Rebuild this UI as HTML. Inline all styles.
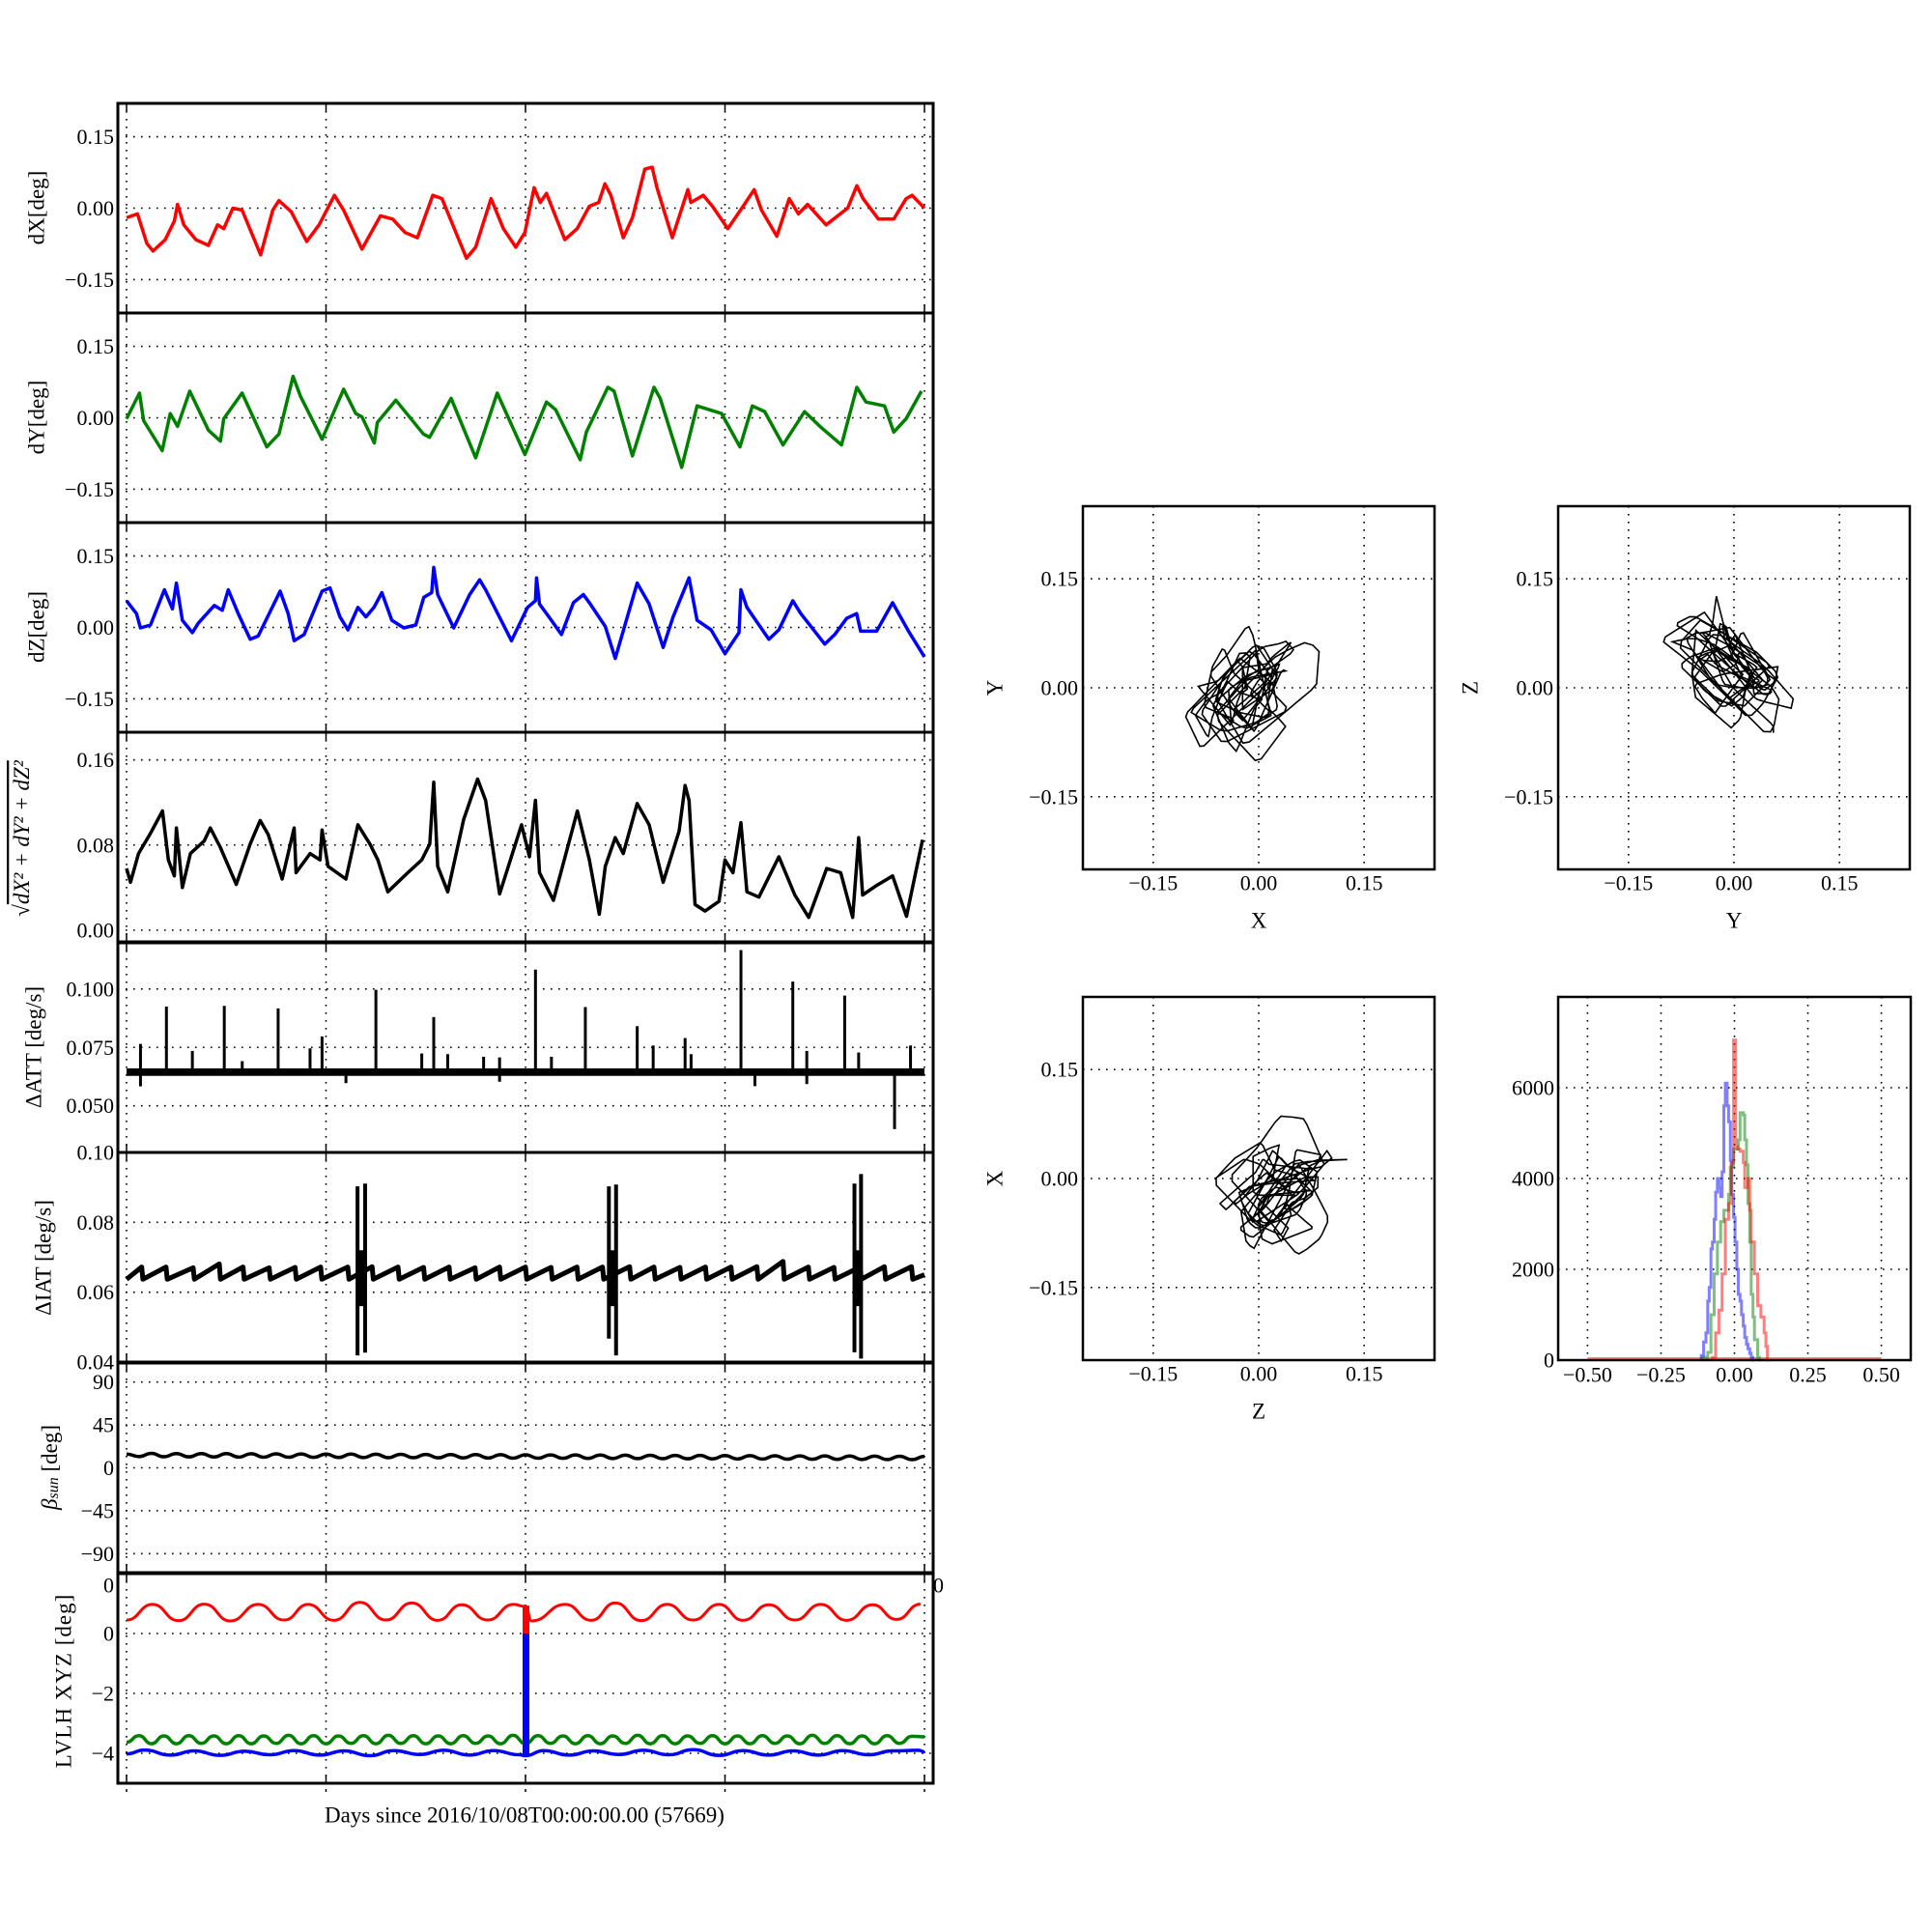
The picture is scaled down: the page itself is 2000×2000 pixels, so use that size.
<!DOCTYPE html>
<html><head><meta charset="utf-8"><style>
body{margin:0;background:#fff}
svg{display:block;font-family:"Liberation Serif","DejaVu Serif",serif}
.grid{stroke:#000;stroke-width:1.6;stroke-dasharray:1.6 6.4;fill:none}
.tick{font-size:22px;fill:#000}
.axlab{font-size:23px;fill:#000}
</style></head><body>
<svg id="fig" width="2000" height="2000" viewBox="0 0 2000 2000"></svg>
<script>
// ---------- data ----------
const dayTicks=[0,1,2,3,4];
const dXDays=[0,.055,.102,.133,.194,.240,.256,.287,.348,.410,.456,.487,.533,.579,.672,.733,.764,.826,.903,.965,1.042,1.088,1.180,1.273,1.334,1.396,1.458,1.535,1.581,1.704,1.750,1.827,1.889,1.951,1.997,2.043,2.074,2.105,2.197,2.259,2.320,2.367,2.398,2.428,2.490,2.536,2.598,2.635,2.659,2.736,2.814,2.829,2.891,2.937,3.014,3.091,3.146,3.183,3.260,3.322,3.368,3.414,3.507,3.615,3.661,3.692,3.769,3.846,3.908,3.938,4.0];
const dXVals=[-.020,-.012,-.074,-.090,-.066,-.027,.008,-.035,-.066,-.078,-.035,-.043,0,-.004,-.098,-.004,.016,-.008,-.070,-.035,.027,-.004,-.086,-.016,-.023,-.051,-.062,.027,.020,-.105,-.082,.020,-.043,-.082,-.051,.043,.012,.031,-.066,-.043,.004,.012,.051,.027,-.062,-.020,.082,.086,.043,-.062,.039,.012,.027,.004,-.043,.004,.039,-.004,-.059,.020,-.012,.008,-.035,0,.047,.020,-.023,-.023,.020,.027,0];
const dYDays=[0,.065,.086,.179,.219,.256,.317,.410,.471,.487,.579,.703,.764,.835,.872,.980,1.088,1.149,1.180,1.242,1.257,1.350,1.488,1.519,1.627,1.750,1.858,1.997,2.105,2.151,2.274,2.305,2.413,2.444,2.536,2.644,2.675,2.783,2.860,2.983,3.075,3.137,3.199,3.291,3.399,3.476,3.584,3.661,3.707,3.800,3.846,3.908,3.985];
const dYVals=[-.002,.052,-.006,-.069,.009,-.018,.056,-.026,-.049,-.002,.052,-.061,-.034,.087,.045,-.045,.060,.009,.002,-.053,-.010,.037,-.034,-.041,.041,-.084,.052,-.077,.033,.017,-.088,-.030,.064,.056,-.080,.064,.041,-.104,.025,.009,-.061,.025,.013,-.057,.013,-.018,-.057,.064,.033,.025,-.030,-.002,.056];
const dZDays=[0,.05,.07,.12,.19,.23,.25,.28,.33,.36,.44,.48,.51,.56,.62,.66,.77,.81,.84,.89,.98,1.02,1.07,1.11,1.16,1.20,1.24,1.28,1.33,1.39,1.45,1.49,1.53,1.54,1.56,1.64,1.72,1.77,1.80,1.93,2.01,2.05,2.055,2.07,2.13,2.18,2.24,2.29,2.32,2.40,2.45,2.56,2.62,2.69,2.74,2.82,2.86,2.93,3.0,3.07,3.08,3.11,3.22,3.27,3.34,3.38,3.50,3.55,3.61,3.66,3.68,3.76,3.84,3.92,4.0];
const dZVals=[.056,.029,-.001,.005,.079,.039,.093,.015,-.011,.009,.046,.036,.079,.029,-.025,-.018,.076,.029,-.028,-.015,.076,.083,.022,-.005,.042,.022,.042,.073,.015,-.001,.005,.063,.073,.126,.069,-.001,.069,.100,.079,-.028,.042,.056,.104,.049,.015,-.015,.052,.069,.052,.002,-.065,.093,.049,-.042,.022,.104,.015,-.005,-.055,-.011,.079,.042,-.025,-.005,.056,.029,-.035,-.015,.019,.029,-.008,-.008,.052,-.008,-.062];
const magDays=[0,.02,.06,.12,.18,.21,.24,.25,.28,.32,.39,.42,.47,.55,.62,.67,.71,.78,.84,.85,.92,.97,.98,1.01,1.10,1.16,1.22,1.26,1.31,1.41,1.48,1.52,1.54,1.56,1.61,1.69,1.76,1.80,1.87,1.98,2.02,2.05,2.07,2.14,2.26,2.32,2.37,2.40,2.45,2.49,2.56,2.62,2.69,2.77,2.80,2.82,2.85,2.90,2.97,3.0,3.04,3.08,3.11,3.17,3.27,3.35,3.42,3.51,3.58,3.64,3.67,3.69,3.76,3.84,3.91,3.99];
const magVals=[.058,.045,.072,.091,.112,.066,.051,.096,.040,.072,.084,.096,.078,.043,.081,.103,.090,.048,.096,.054,.072,.066,.094,.060,.048,.099,.081,.066,.036,.054,.066,.081,.139,.060,.036,.104,.142,.122,.034,.099,.069,.122,.054,.028,.112,.066,.015,.060,.087,.072,.119,.099,.045,.093,.136,.122,.024,.018,.027,.066,.054,.101,.036,.031,.069,.033,.012,.058,.054,.012,.087,.033,.042,.051,.013,.085];
const attBase=[.0628,.0660];
const attSpikeDays=[.07,.20,.33,.49,.58,.76,.92,.98,1.25,1.48,1.54,1.61,1.79,1.87,2.05,2.13,2.30,2.56,2.64,2.80,2.83,3.08,3.34,3.41,3.60,3.67,3.93];
const attSpikeVals=[.0765,.0925,.0735,.0928,.0691,.0917,.0746,.0797,.0997,.0724,.0880,.0721,.0710,.0707,.1083,.0710,.0923,.0841,.0758,.0790,.0721,.1167,.1032,.0735,.0972,.0728,.0758];
const attDipDays=[.07,1.10,1.87,3.15,3.41,3.85];
const attDipVals=[.0583,.0597,.0603,.0584,.0593,.0400];
const iatToothDays=[.076,.198,.334,.465,.584,.715,.845,.973,1.109,1.231,1.361,1.489,1.617,1.747,1.870,2.0,2.128,2.258,2.386,2.522,2.644,2.774,2.902,3.030,3.160,3.291,3.418,3.546,3.677,3.799,3.935];
const iatToothVals=[.0672,.0672,.0670,.0681,.0672,.0670,.0671,.0672,.0672,.0673,.0672,.0671,.0672,.0670,.0672,.0672,.0671,.0672,.0672,.0673,.0672,.0671,.0672,.0672,.0673,.0688,.0672,.0671,.0672,.0673,.0673];
const iatBaseVal=.0637;
const iatBurstDays=[1.158,1.196,2.418,2.454,3.649,3.682];
const iatBurstTop=[.0903,.0911,.0903,.0908,.0911,.0938];
const iatBurstBot=[.0419,.0427,.0467,.0419,.0428,.0410];
const waveDays=[0,.0625,.125,.1875,.25,.3125,.375,.4375,.5,.5625,.625,.6875,.75,.8125,.875,.9375,1,1.0625,1.125,1.1875,1.25,1.3125,1.375,1.4375,1.5,1.5625,1.625,1.6875,1.75,1.8125,1.875,1.9375,2,2.0625,2.125,2.1875,2.25,2.3125,2.375,2.4375,2.5,2.5625,2.625,2.6875,2.75,2.8125,2.875,2.9375,3,3.0625,3.125,3.1875,3.25,3.3125,3.375,3.4375,3.5,3.5625,3.625,3.6875,3.75,3.8125,3.875,3.9375,4];
const betaVals=[14.5,11.8,15.2,11.6,15.0,11.5,15.0,11.4,14.9,11.3,14.8,11.2,14.7,11.1,14.6,11.0,14.5,10.9,14.4,10.8,14.3,10.7,14.2,10.6,14.1,10.5,14.0,10.4,13.9,10.3,13.8,10.2,13.7,10.1,13.6,10.0,13.5,9.9,13.4,9.8,13.3,9.7,13.2,9.6,13.1,9.5,13.0,9.4,12.9,9.3,12.8,9.2,12.7,9.1,12.6,9.0,12.5,8.9,12.4,8.8,12.3,8.7,12.2,8.6,12.1];
const greenVals=[-3.63,-3.41,-3.68,-3.42,-3.68,-3.41,-3.67,-3.42,-3.68,-3.41,-3.68,-3.42,-3.67,-3.40,-3.68,-3.41,-3.68,-3.42,-3.67,-3.41,-3.68,-3.40,-3.67,-3.41,-3.68,-3.42,-3.68,-3.41,-3.67,-3.42,-3.68,-3.40,-3.68,-3.41,-3.67,-3.42,-3.68,-3.41,-3.68,-3.42,-3.67,-3.40,-3.68,-3.41,-3.68,-3.42,-3.67,-3.41,-3.68,-3.42,-3.68,-3.41,-3.67,-3.42,-3.68,-3.40,-3.67,-3.41,-3.68,-3.42,-3.68,-3.41,-3.67,-3.43,-3.45];
const redDays=[0,.13,.26,.39,.52,.66,.79,.91,1.04,1.17,1.30,1.43,1.56,1.68,1.81,1.94,2.00,2.03,2.20,2.33,2.45,2.58,2.71,2.84,2.97,3.09,3.22,3.35,3.48,3.61,3.74,3.86,3.98];
const redVals=[.45,.97,.43,.98,.42,.97,.45,.97,.44,1.04,.45,1.02,.44,.96,.45,.97,.90,.42,.97,.44,1.02,.43,.97,.45,.97,.44,.96,.45,.97,.44,.96,.47,.98];
const blueDays=[0,.09,.22,.34,.47,.59,.72,.84,.97,1.09,1.22,1.34,1.47,1.59,1.72,1.84,1.97,2.0,2.09,2.22,2.34,2.47,2.59,2.72,2.84,2.97,3.09,3.22,3.34,3.47,3.59,3.72,3.84,3.97,4.0];
const blueVals=[-4.02,-3.89,-4.06,-3.92,-4.07,-3.93,-4.05,-3.91,-4.06,-3.92,-4.08,-3.91,-4.04,-3.90,-4.06,-3.91,-4.05,-4.08,-3.91,-4.06,-3.92,-4.04,-3.90,-4.05,-3.88,-4.07,-3.91,-4.06,-3.92,-4.06,-3.91,-4.05,-3.92,-3.90,-3.95];
const jumpDay=2.0, jumpRedTop=.93, jumpBlueBot=-4.05;
const histBlueX=[-.113,-.105,-.097,-.091,-.086,-.080,-.075,-.069,-.064,-.058,-.053,-.047,-.042,-.036,-.031,-.025,-.020,-.014,-.009,-.003,.002,.008,.013,.019,.024,.030,.035,.041,.046,.052,.057,.063];
const histBlueC=[100,400,600,1300,1600,2450,2600,3100,3700,4000,3800,3600,4150,5600,6100,5600,5250,4400,3650,3150,2600,2000,1450,1300,1000,750,500,350,250,150,60,0];
const histGreenX=[-.108,-.091,-.080,-.069,-.058,-.047,-.036,-.020,-.014,-.003,.013,.019,.030,.035,.041,.046,.052,.057,.063,.068,.079,.085];
const histGreenC=[60,170,1000,1900,2600,3050,3300,3650,4250,4650,4850,5450,5400,4850,4300,3450,2600,1450,950,450,60,0];
const histRedX=[-.075,-.064,-.053,-.042,-.031,-.020,-.011,-.003,.004,.011,.019,.030,.035,.046,.052,.057,.068,.079,.090,.101,.107,.112];
const histRedC=[60,600,1100,1900,3100,3450,4350,7050,4700,4650,4600,4350,3800,4000,3300,2600,1900,1200,950,600,300,0];

// ---------- drawing ----------
const svg=document.getElementById('fig');
const NS=svg.namespaceURI;
function mk(tag,attrs,parent){const e=document.createElementNS(NS,tag);for(const k in attrs)e.setAttribute(k,attrs[k]);(parent||svg).appendChild(e);return e;}
const PT=[107,324,541,758,976,1193,1411,1629], PH=217, FX0=122, FX1=966;
const XMIN=-0.0435, XMAX=4.0435;
const xs=d=>FX0+(d-XMIN)/(XMAX-XMIN)*(FX1-FX0);

function leftPanel(i,key,ymin,ymax,ticks,labels){
  const top=PT[i];
  const g=mk('g',{});
  
  
  const ys=v=>top+(ymax-v)/(ymax-ymin)*PH;
  dayTicks.forEach(d=>{
    const l=mk('line',{x1:xs(d),x2:xs(d),y1:top,y2:top+PH,class:'grid'},g);
    
    
    const t1=mk('line',{x1:xs(d),x2:xs(d),y1:top,y2:top+8,stroke:'#000','stroke-width':1.5},g);
    
    
    const t2=mk('line',{x1:xs(d),x2:xs(d),y1:top+PH-8,y2:top+PH,stroke:'#000','stroke-width':1.5},g);
    
    
  });
  ticks.forEach((t,j)=>{
    const y=ys(t);
    const l=mk('line',{x1:FX0,x2:FX1,y1:y,y2:y,class:'grid'},g);
    
    
    const tx=mk('text',{x:118,y:y,'text-anchor':'end','dominant-baseline':'central',class:'tick'},g);
    
    
    tx.textContent=labels[j];
  });
  return {g,ys,top};
}
function frame(p){
  const r=mk('rect',{x:FX0,y:p.top,width:FX1-FX0,height:PH,fill:'none',stroke:'#000','stroke-width':3},p.g);
  
  
}
function line(p,days,vals,color,w,name){
  const pts=days.map((d,k)=>xs(d).toFixed(1)+','+p.ys(vals[k]).toFixed(1)).join(' ');
  const e=mk('polyline',{points:pts,fill:'none',stroke:color,'stroke-width':w,'stroke-linejoin':'round'},p.g);
  
  
}
function wave(p,days,vals,color,w,name){
  let d='M'+xs(days[0])+','+p.ys(vals[0]);
  for(let k=1;k<days.length;k++){
    const xa=xs(days[k-1]),xb=xs(days[k]),xm=(xa+xb)/2,ya=p.ys(vals[k-1]),yb=p.ys(vals[k]);
    d+=` C${xm},${ya} ${xm},${yb} ${xb},${yb}`;
  }
  const e=mk('path',{d:d,fill:'none',stroke:color,'stroke-width':w},p.g);
  
  
}
function ylabel(x,y,txt,name){
  const t=mk('text',{x:x,y:y,transform:`rotate(-90 ${x} ${y})`,'text-anchor':'middle','dominant-baseline':'central',class:'axlab'});
  
  
  t.textContent=txt;
  return t;
}

const pm=['−0.15','0.00','0.15'];
const p1=leftPanel(0,'dx',-0.22,0.22,[-0.15,0,0.15],pm);
line(p1,dXDays,dXVals,'#ff0000',3.5,'dx-series');frame(p1);
const p2=leftPanel(1,'dy',-0.22,0.22,[-0.15,0,0.15],pm);
line(p2,dYDays,dYVals,'#008000',3.5,'dy-series');frame(p2);
const p3=leftPanel(2,'dz',-0.22,0.22,[-0.15,0,0.15],pm);
line(p3,dZDays,dZVals,'#0000ff',3.5,'dz-series');frame(p3);
const p4=leftPanel(3,'magnitude',-0.011,0.186,[0,0.08,0.16],['0.00','0.08','0.16']);
line(p4,magDays,magVals,'#000',3.5,'magnitude-series');frame(p4);

const p5=leftPanel(4,'datt',0.030,0.1198,[0.05,0.075,0.1],['0.050','0.075','0.100']);
{const r=mk('rect',{x:xs(0),y:p5.ys(attBase[1]),width:xs(4)-xs(0),height:p5.ys(attBase[0])-p5.ys(attBase[1]),fill:'#000'},p5.g);

}
attSpikeDays.forEach((d,k)=>{
  const l=mk('line',{x1:xs(d),x2:xs(d),y1:p5.ys(.0645),y2:p5.ys(attSpikeVals[k]),stroke:'#000','stroke-width':3},p5.g);
  
  
});
attDipDays.forEach((d,k)=>{
  const l=mk('line',{x1:xs(d),x2:xs(d),y1:p5.ys(.0645),y2:p5.ys(attDipVals[k]),stroke:'#000','stroke-width':3},p5.g);
  
  
});
frame(p5);

const p6=leftPanel(5,'diat',0.04,0.10,[0.04,0.06,0.08,0.10],['0.04','0.06','0.08','0.10']);
{let d='M'+xs(0)+','+p6.ys(iatBaseVal);
 iatToothDays.forEach((t,k)=>{
   d+=` L${xs(t)},${p6.ys(iatToothVals[k])} L${xs(t+0.006)},${p6.ys(iatBaseVal)}`;
 });
 d+=` L${xs(4)},${p6.ys(.0650)}`;
 const e=mk('path',{d:d,fill:'none',stroke:'#000','stroke-width':5,'stroke-linejoin':'round'},p6.g);
 
 }
iatBurstDays.forEach((d,k)=>{
  const l=mk('line',{x1:xs(d),x2:xs(d),y1:p6.ys(iatBurstTop[k]),y2:p6.ys(iatBurstBot[k]),stroke:'#000','stroke-width':4},p6.g);
  
  
});
for(let k=0;k<iatBurstDays.length;k+=2){
  const xa=xs(iatBurstDays[k]),xb=xs(iatBurstDays[k+1]);
  const r=mk('rect',{x:xa,y:p6.ys(.072),width:xb-xa,height:p6.ys(.056)-p6.ys(.072),fill:'#000'},p6.g);
  
  
}
frame(p6);

const p7=leftPanel(6,'beta-sun',-110,110,[-90,-45,0,45,90],['−90','−45','0','45','90']);
wave(p7,waveDays,betaVals,'#000',3.5,'beta-sun-series');frame(p7);

const p8=leftPanel(7,'lvlh',-5,2,[-4,-2,0],['−4','−2','0']);
wave(p8,waveDays,greenVals,'#008000',3.5,'lvlh-y-series');
wave(p8,blueDays,blueVals,'#0000ff',3.5,'lvlh-z-series');
wave(p8,redDays,redVals,'#ff0000',3,'lvlh-x-series');
{const r1=mk('rect',{x:xs(jumpDay)-3,y:p8.ys(0),width:7,height:p8.ys(jumpBlueBot)-p8.ys(0),fill:'#0000ff'},p8.g);


const r2=mk('rect',{x:xs(jumpDay)-3,y:p8.ys(jumpRedTop),width:7,height:p8.ys(0)-p8.ys(jumpRedTop),fill:'#ff0000'},p8.g);

}
frame(p8);
{const a=mk('text',{x:118,y:1641,'text-anchor':'end','dominant-baseline':'central',class:'tick'});


a.textContent='0';
const b=mk('text',{x:966,y:1641,'dominant-baseline':'central',class:'tick'});


b.textContent='0';}
dayTicks.forEach(d=>{
  const l=mk('line',{x1:xs(d),x2:xs(d),y1:1852,y2:1855,stroke:'#000','stroke-width':1.5});
  
  
});

ylabel(38,215,'dX[deg]','dx-y-label');
ylabel(38,432,'dY[deg]','dy-y-label');
ylabel(38,649,'dZ[deg]','dz-y-label');
{const t=ylabel(22,868,'','magnitude-y-label');t.setAttribute('font-style','italic');
 const s1=mk('tspan',{},t);s1.textContent='√';
 const s2=mk('tspan',{'text-decoration':'overline'},t);s2.textContent='dX² + dY² + dZ²';}
ylabel(35,1084,'ΔATT [deg/s]','datt-y-label');
ylabel(45,1302,'ΔIAT [deg/s]','diat-y-label');
{const t=ylabel(51,1519,'','beta-y-label');
 const s1=mk('tspan',{'font-style':'italic'},t);s1.textContent='β';
 const s2=mk('tspan',{'font-style':'italic','font-size':'16px','dy':'4'},t);s2.textContent='sun';
 const s3=mk('tspan',{'dy':'-4'},t);s3.textContent=' [deg]';}
{const t=ylabel(66,1740,'LVLH XYZ [deg]','lvlh-y-label');t.setAttribute('letter-spacing','1');}
{const t=mk('text',{x:543,y:1879,'text-anchor':'middle','dominant-baseline':'central',class:'axlab'});


t.textContent='Days since 2016/10/08T00:00:00.00 (57669)';}

// ---------- right panels ----------
const N=600;
function interp(days,vals,t){let k=1;while(k<days.length-1&&days[k]<t)k++;const f=(t-days[k-1])/(days[k]-days[k-1]);return vals[k-1]+(vals[k]-vals[k-1])*Math.max(0,Math.min(1,f));}
function scatterPanel(x0,y0,xd,xv,yd,yv,xl,yl,key){
  const W=364,H=376,g=mk('g',{});
  
  
  const sx=v=>x0+(v+0.25)/0.5*W, sy=v=>y0+(0.25-v)/0.5*H;
  [-0.15,0,0.15].forEach((t,j)=>{
    const a=mk('line',{x1:sx(t),x2:sx(t),y1:y0,y2:y0+H,class:'grid'},g);
    
    const b=mk('line',{x1:x0,x2:x0+W,y1:sy(t),y2:sy(t),class:'grid'},g);
    
    const tx=mk('text',{x:sx(t),y:y0+H+14,'text-anchor':'middle','dominant-baseline':'central',class:'tick'},g);
    tx.textContent=pm[j];
    const ty=mk('text',{x:x0-5,y:sy(t),'text-anchor':'end','dominant-baseline':'central',class:'tick'},g);
    ty.textContent=pm[j];
  });
  const pts=[];
  for(let i=0;i<=N;i++){const t=4*i/N;pts.push(sx(interp(xd,xv,t)).toFixed(1)+','+sy(interp(yd,yv,t)).toFixed(1));}
  const pl=mk('polyline',{points:pts.join(' '),fill:'none',stroke:'#000','stroke-width':1.6},g);
  
  
  const r=mk('rect',{x:x0,y:y0,width:W,height:H,fill:'none',stroke:'#000','stroke-width':2.5},g);
  
  const lx=mk('text',{x:x0+W/2,y:y0+H+53,'text-anchor':'middle','dominant-baseline':'central',class:'axlab'},g);
  lx.textContent=xl;
  const ly=mk('text',{x:x0-91,y:y0+H/2,transform:`rotate(-90 ${x0-91} ${y0+H/2})`,'text-anchor':'middle','dominant-baseline':'central',class:'axlab'},g);
  ly.textContent=yl;
}
scatterPanel(1121,524,dXDays,dXVals,dYDays,dYVals,'X','Y','xy-scatter');
scatterPanel(1613,524,dYDays,dYVals,dZDays,dZVals,'Y','Z','yz-scatter');
scatterPanel(1121,1032,dZDays,dZVals,dXDays,dXVals,'Z','X','zx-scatter');

{const x0=1613,y0=1032,W=365,H=376,g=mk('g',{});
 
 
 const sx=v=>x0+(v+0.6)/1.2*W, sy=c=>y0+H-c/8000*H;
 const xt=[-0.5,-0.25,0,0.25,0.5], xtl=['−0.50','−0.25','0.00','0.25','0.50'];
 xt.forEach((t,j)=>{
   const a=mk('line',{x1:sx(t),x2:sx(t),y1:y0,y2:y0+H,class:'grid'},g);
   
   const tx=mk('text',{x:sx(t),y:y0+H+15,'text-anchor':'middle','dominant-baseline':'central',class:'tick'},g);
   tx.textContent=xtl[j];
 });
 [0,2000,4000,6000].forEach(c=>{
   const b=mk('line',{x1:x0,x2:x0+W,y1:sy(c),y2:sy(c),class:'grid'},g);
   
   const ty=mk('text',{x:x0-4,y:sy(c),'text-anchor':'end','dominant-baseline':'central',class:'tick'},g);
   ty.textContent=String(c);
 });
 const base=mk('line',{x1:sx(-0.5),x2:sx(0.5),y1:sy(0)-1.5,y2:sy(0)-1.5,stroke:'#ff0000','stroke-opacity':0.5,'stroke-width':3},g);
 
 function steps(X,C,color,name){
   let d=`M${sx(X[0])},${sy(0)}`;
   for(let k=0;k<X.length;k++){
     d+=` L${sx(X[k])},${sy(C[k])}`;
     const nx=k+1<X.length?X[k+1]:X[k]+0.0055;
     d+=` L${sx(nx)},${sy(C[k])}`;
   }
   d+=` L${sx(X[X.length-1]+0.0055)},${sy(0)}`;
   const e=mk('path',{d:d,fill:'none',stroke:color,'stroke-opacity':0.5,'stroke-width':3},g);
   
   
 }
 steps(histBlueX,histBlueC,'#0000ff','histogram-dz');
 steps(histGreenX,histGreenC,'#008000','histogram-dy');
 steps(histRedX,histRedC,'#ff0000','histogram-dx');
 const r=mk('rect',{x:x0,y:y0,width:W,height:H,fill:'none',stroke:'#000','stroke-width':2.5},g);
 
}
</script>
</body></html>
